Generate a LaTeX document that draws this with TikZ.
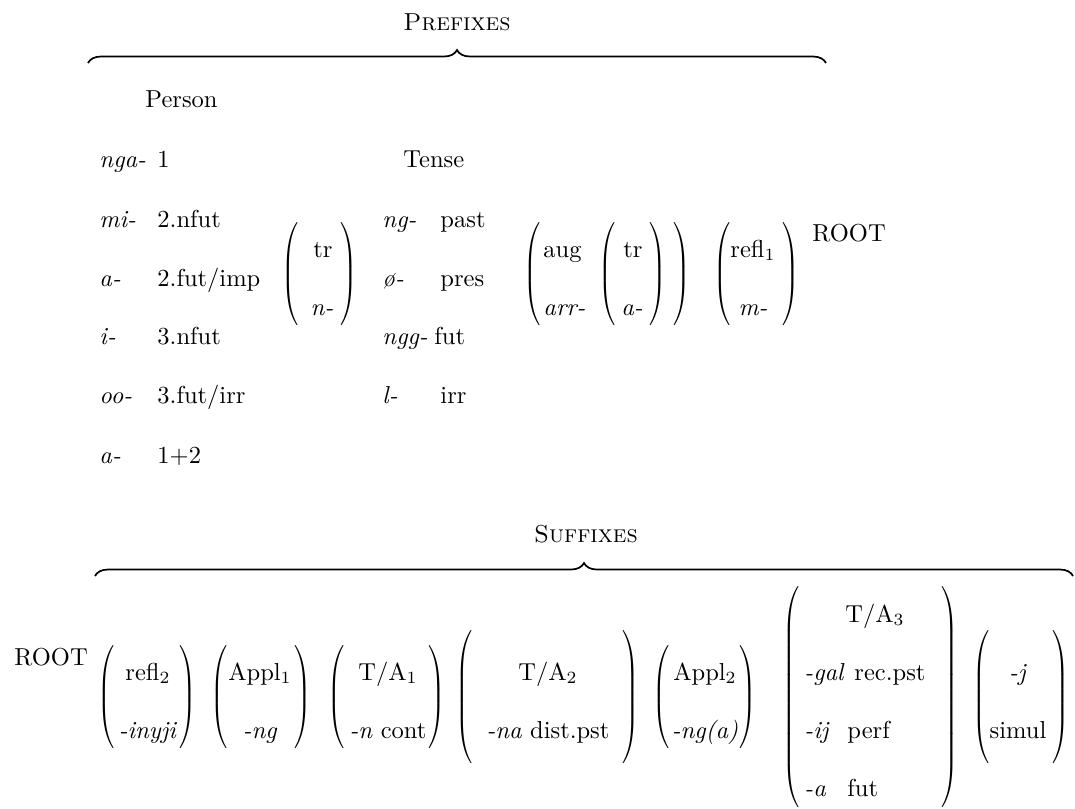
\documentclass[tikz,border=0pt]{standalone}
\usepackage{fontspec}
\usepackage{tikz}
\usetikzlibrary{decorations.pathreplacing}
\setlength{\nulldelimiterspace}{0pt}

\begin{document}
\begin{tikzpicture}[x=0.408pt, y=-0.408pt,
    every node/.style={inner sep=0pt},
    mw/.style={anchor=base west},
    mc/.style={anchor=base},
    ttl/.style={anchor=base, font=\scshape},
    par/.style={anchor=center, xscale=0.8},
    brc/.style={decorate, decoration={brace, amplitude=5.3pt}, line width=0.7pt}]

    \useasboundingbox (0,0) rectangle (1075,808);

    % Big parentheses: #1=name, #2=x, #3=y of axis, #4=height in pt
    \newcommand{\delimL}[4]{\node[par] (#1) at (#2,#3) {$\left(\vcenter to #4pt{\vfil}\right.$};}
    \newcommand{\delimR}[4]{\node[par] (#1) at (#2,#3) {$\left.\vcenter to #4pt{\vfil}\right)$};}

    % === Prefixes ===
    \node[ttl] (pre) at (457,30) {Prefixes};
    \coordinate (preL) at (88,63);
    \coordinate (preR) at (826,63);
    \draw[brc] (preL) -- (preR);

    % person slot
    \node[mw] (person) at (145,107) {Person};
    \foreach \y/\m/\g [count=\i] in {167/nga-/1, 227/mi-/2.nfut, 286/a-/{2.fut/imp},
                                   344/i-/3.nfut, 403/oo-/{3.fut/irr}, 463/a-/1+2} {
        \node[mw] (pm\i) at (99,\y) {\textit{\m}};
        \node[mw] (pg\i) at (157,\y) {\g};
    }

    % transitive
    \delimL{trL}{290}{274}{44}
    \node[mc] (tr1) at (323,257) {tr};
    \node[mc] (n1) at (322,315) {\textit{n-}};
    \delimR{trR}{349}{274}{44}

    % tense slot
    \node[mw] (tense) at (403,167) {Tense};
    \node[mw] (tm1) at (382,227) {\textit{ng-}};  \node[mw] (tg1) at (440,227) {past};
    \node[mw] (tm2) at (382,286) {\textit{ø-}};   \node[mw] (tg2) at (440,286) {pres};
    \node[mw] (tm3) at (382,344) {\textit{ngg-}}; \node[mw] (tg3) at (434,344) {fut};
    \node[mw] (tm4) at (382,403) {\textit{l-}};   \node[mw] (tg4) at (440,403) {irr};

    % augmented, with transitive inside
    \delimL{augL}{532}{274}{44}
    \node[mw] (aug) at (543,257) {aug};
    \node[mw] (arr) at (543,315) {\textit{arr-}};
    \delimL{tr2L}{607}{274}{44}
    \node[mc] (tr2) at (633,257) {tr};
    \node[mc] (a2) at (632,315) {\textit{a-}};
    \delimR{tr2R}{658}{274}{44}
    \delimR{augR}{682}{274}{44}

    % reflexive 1
    \delimL{rf1L}{722}{274}{44}
    \node[mc] (rf1) at (753,257) {refl$_1$};
    \node[mc] (m1) at (753,315) {\textit{m-}};
    \delimR{rf1R}{791}{274}{44}
    \node[mw] (root1) at (812,241) {ROOT};

    % === Suffixes ===
    \node[ttl] (suf) at (586,542) {Suffixes};
    \coordinate (sufL) at (95,576);
    \coordinate (sufR) at (1073,576);
    \draw[brc] (sufL) -- (sufR);
    \node[mw] (root2) at (14,665) {ROOT};

    % reflexive 2
    \delimL{rf2L}{106}{697}{44}
    \node[mc] (rf2) at (148,680) {refl$_2$};
    \node[mc] (inyji) at (148,738) {\textit{-inyji}};
    \delimR{rf2R}{188}{697}{44}

    % applicative 1
    \delimL{ap1L}{219}{697}{44}
    \node[mc] (ap1) at (260,680) {Appl$_1$};
    \node[mc] (ng1) at (260,738) {\textit{-ng}};
    \delimR{ap1R}{303}{697}{44}

    % T/A 1
    \delimL{ta1L}{336}{697}{44}
    \node[mc] (ta1) at (388,680) {T/A$_1$};
    \node[mc] (cont) at (388,738) {\textit{-n}\ cont};
    \delimR{ta1R}{437}{697}{44}

    % T/A 2
    \delimL{ta2L}{464}{697}{56}
    \node[mc] (ta2) at (548,680) {T/A$_2$};
    \node[mc] (dist) at (548,738) {\textit{-na} dist.pst};
    \delimR{ta2R}{631}{697}{56}

    % applicative 2
    \delimL{ap2L}{661}{697}{44}
    \node[mc] (ap2) at (705,680) {Appl$_2$};
    \node[mc] (ng2) at (705,738) {\textit{-ng(a)}};
    \delimR{ap2R}{748}{697}{44}

    % T/A 3
    \delimL{ta3L}{791}{697}{93}
    \node[mc] (ta3) at (875,622) {T/A$_3$};
    \node[mw] (gal) at (804,680) {\textit{-gal}};  \node[mw] (rec) at (854,680) {rec.pst};
    \node[mw] (ij) at (804,738) {\textit{-ij}};    \node[mw] (perf) at (847,738) {perf};
    \node[mw] (afut) at (804,796) {\textit{-a}};   \node[mw] (fut) at (847,796) {fut};
    \delimR{ta3R}{950}{697}{93}

    % simultaneous
    \delimL{smL}{981}{697}{56}
    \node[mc] (jj) at (1018,680) {\textit{-j}};
    \node[mc] (simul) at (1018,738) {simul};
    \delimR{smR}{1061}{697}{56}

\end{tikzpicture}
\end{document}
